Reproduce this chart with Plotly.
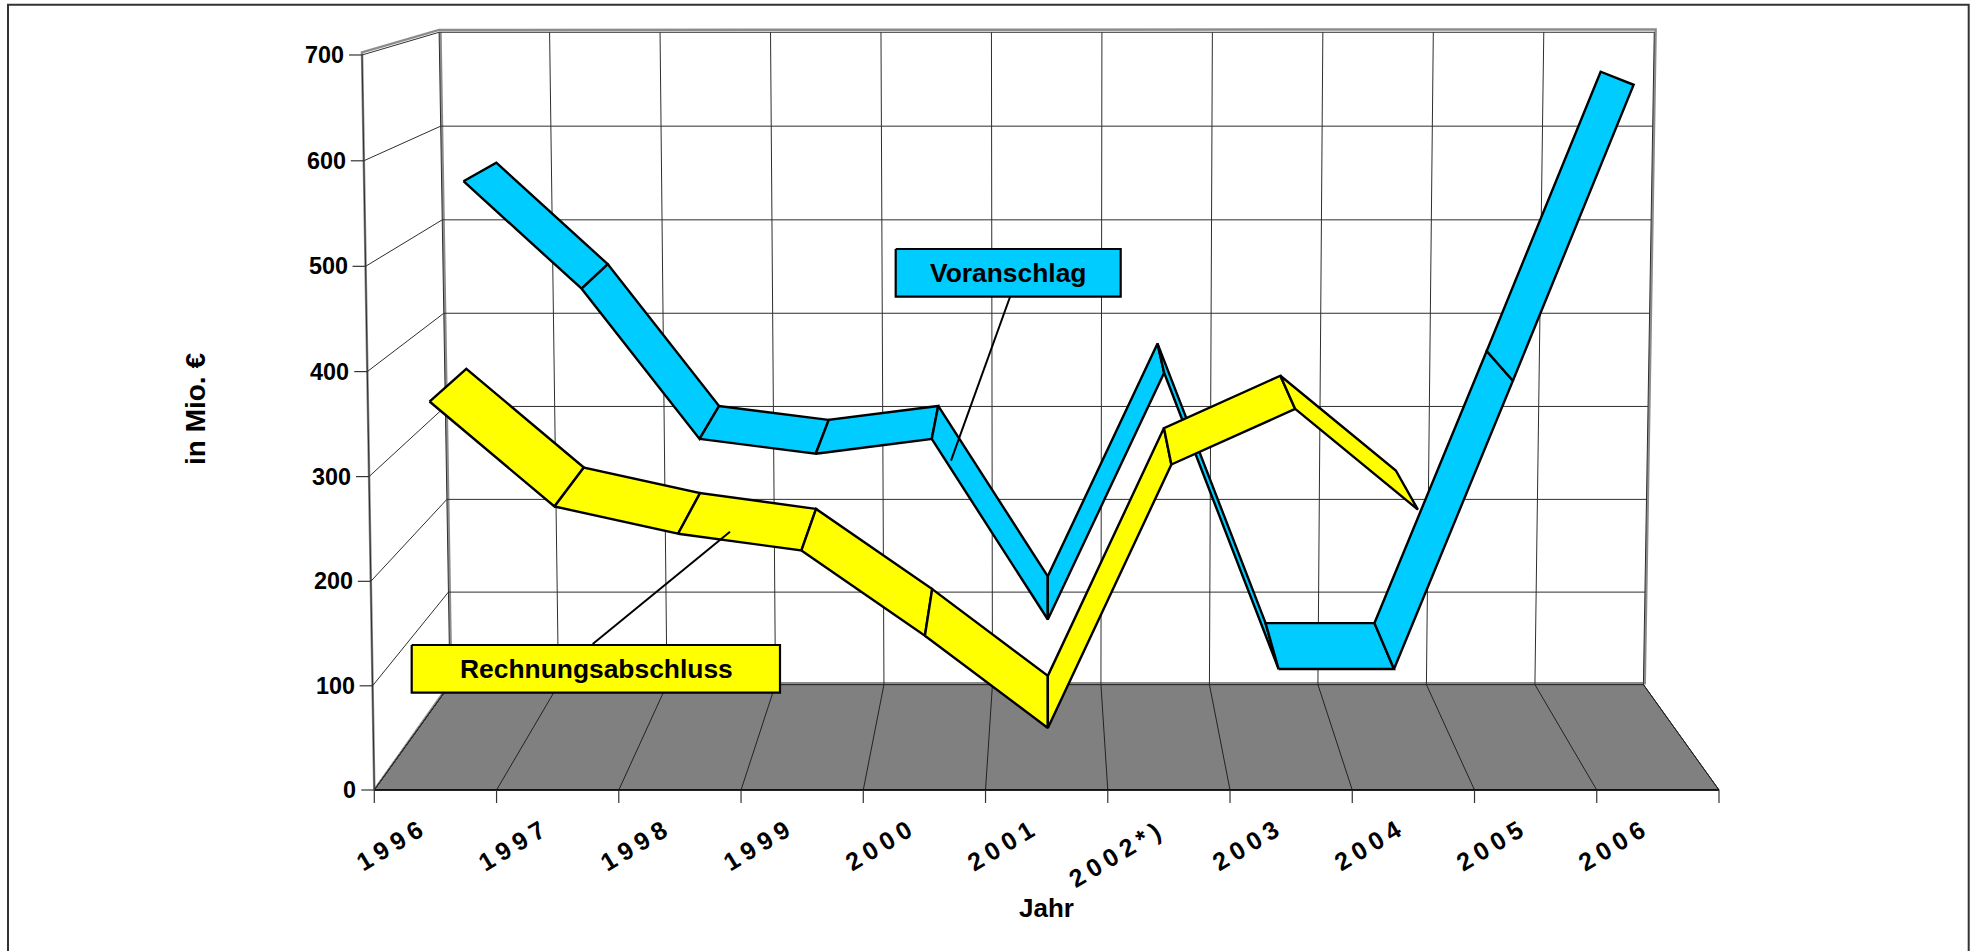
import plotly.graph_objects as go

years = ["1996", "1997", "1998", "1999", "2000", "2001", "2002*)", "2003", "2004", "2005", "2006"]
voranschlag = [561, 452.5, 300.5, 285.5, 300.5, 117, 367.5, 66.5, 66.5, 359.5, 658]
rechnungsabschluss = [371.5, 271.5, 245.5, 229.5, 148, 59.5, 311.5, 364.5, 268.5]
value_ticks = [0, 100, 200, 300, 400, 500, 600, 700]

BLUE = "#00CCFF"
YELLOW = "#FFFF00"
FLOOR = "#808080"
WALL = "#8c8c8c"
GRID = "#2e2e2e"

# perspective of the 3D chart box
CX, CY = 1047.0, -147.0
X0, X1 = 374.3, 1719.0
Y0, PX_A, PX_B = 790.0, 1.0407, 1.33e-5
K = 2.6e-5
S_FRONT, S_MID, S_BACK = 1.0, 0.9404, 0.8875
STEP = (X1 - X0) / len(years)


def project(cat, value, s):
    bx = X0 + cat * STEP
    by = Y0 - PX_A * value - PX_B * value * value
    return CX + (bx - CX) * s * (1 + K * value), CY + (by - CY) * s


fig = go.Figure()


def path(points, color, width, fill=None, closed=False):
    xs = [p[0] if p else None for p in points]
    ys = [p[1] if p else None for p in points]
    if closed:
        xs.append(xs[0])
        ys.append(ys[0])
    fig.add_trace(go.Scatter(
        x=xs, y=ys, mode="lines", hoverinfo="skip", showlegend=False,
        line=dict(color=color, width=width),
        fill="toself" if fill else None, fillcolor=fill,
    ))


# outer frame
path([(8, 970), (8, 4.7), (1968.7, 4.7), (1968.7, 970)], "#333333", 2)

n = len(years)
# wall outline
path([project(0, 0, 1), project(0, 702.5, 1), project(0, 702.5, S_BACK),
      project(n + 0.012, 703, S_BACK), project(n + 0.012, 1.5, S_BACK),
      project(0, 1.5, S_BACK), project(0, 0, 1)], WALL, 2.5)
path([project(0.012, 0, S_BACK), project(0.012, 700, S_BACK)], WALL, 2.5)

# floor
path([project(0, 0, 1), project(n, 0, 1), project(n, 0, S_BACK), project(0, 0, S_BACK)],
     "#111111", 1, fill=FLOOR, closed=True)
floor_lines = []
for i in range(n + 1):
    floor_lines += [project(i, 0, 1), project(i, 0, S_BACK), None]
path(floor_lines, "#222222", 1)
path([project(0, 0, 1), project(n, 0, 1)], "#000000", 1.6)

# grid on back wall and side wall, ticks
grid = []
for v in value_ticks:
    grid += [project(0, v, S_BACK), project(n, v, S_BACK), None]
    grid += [project(0, v, 1), project(0, v, S_BACK), None]
for i in range(n + 1):
    grid += [project(i, 0, S_BACK), project(i, 700, S_BACK), None]
grid += [project(0, 0, 1), project(0, 700, 1), None]
path(grid, GRID, 1)

ticks = []
for i in range(n + 1):
    x, y = project(i, 0, 1)
    ticks += [(x, y), (x, y + 13), None]
for v in value_ticks:
    x, y = project(0, v, 1)
    ticks += [(x - 13, y), (x, y), None]
path(ticks, "#333333", 1.2)


def ribbon(values, s_front, s_back, color):
    for i in range(len(values) - 1):
        a, b = values[i], values[i + 1]
        c0, c1 = 0.5 + i * 1.002, 0.5 + (i + 1) * 1.002
        path([project(c0, a, s_front), project(c1, b, s_front),
              project(c1, b, s_back), project(c0, a, s_back)],
             "#000000", 2.4, fill=color, closed=True)


ribbon(voranschlag, S_MID, S_BACK, BLUE)
ribbon(rechnungsabschluss, S_FRONT, S_MID, YELLOW)

# callouts
path([(730, 531.7), (592.7, 644)], "#000000", 2)
path([(1010.7, 295), (951, 460.7)], "#000000", 2)
path([(411.7, 645), (780, 645), (780, 692.7), (411.7, 692.7)], "#000000", 2.2, fill=YELLOW, closed=True)
path([(895.7, 249), (1120.7, 249), (1120.7, 296.7), (895.7, 296.7)], "#000000", 2.2, fill=BLUE, closed=True)

FONT = "Liberation Sans"
annotations = []


def label(text, x, y, size, angle=0, xanchor="center"):
    annotations.append(dict(
        text=f"<b>{text}</b>", x=x, y=y, xref="x", yref="y", showarrow=False,
        xanchor=xanchor, yanchor="middle", textangle=angle,
        font=dict(family=FONT, size=size, color="#000000"),
    ))


label("Rechnungsabschluss", 596, 669, 26.4)
label("Voranschlag", 1008, 272.5, 26.4)
for v in value_ticks:
    x, y = project(0, v, 1)
    label(str(v), x - 16, y, 23.4, xanchor="right")
for i, yr in enumerate(years):
    dx = -6 if len(yr) > 4 else 2
    dy = 9 if len(yr) > 4 else 0
    label(yr, 390 + i * STEP + dx, 844 + dy, 25, angle=-31)
label("in Mio. €", 195, 409, 28, angle=-90)
label("Jahr", 1046, 908, 26)

fig.update_layout(
    width=1975, height=951,
    margin=dict(l=0, r=0, t=0, b=0),
    paper_bgcolor="#ffffff", plot_bgcolor="#ffffff",
    xaxis=dict(range=[0, 1975], visible=False, fixedrange=True),
    yaxis=dict(range=[951, 0], visible=False, fixedrange=True),
    annotations=annotations,
    showlegend=False,
)

post = """
document.documentElement.style.overflow='hidden';
document.body.style.margin='0';
document.body.style.overflow='hidden';
document.querySelectorAll('.annotation-text').forEach(function(t){
  if (/^[12][0-9]{3}(\\*\\))?$/.test(t.textContent.trim())) { t.style.letterSpacing='5.5px'; }
});
"""
fig.write_html("out.html", post_script=post, config={"displayModeBar": False})
